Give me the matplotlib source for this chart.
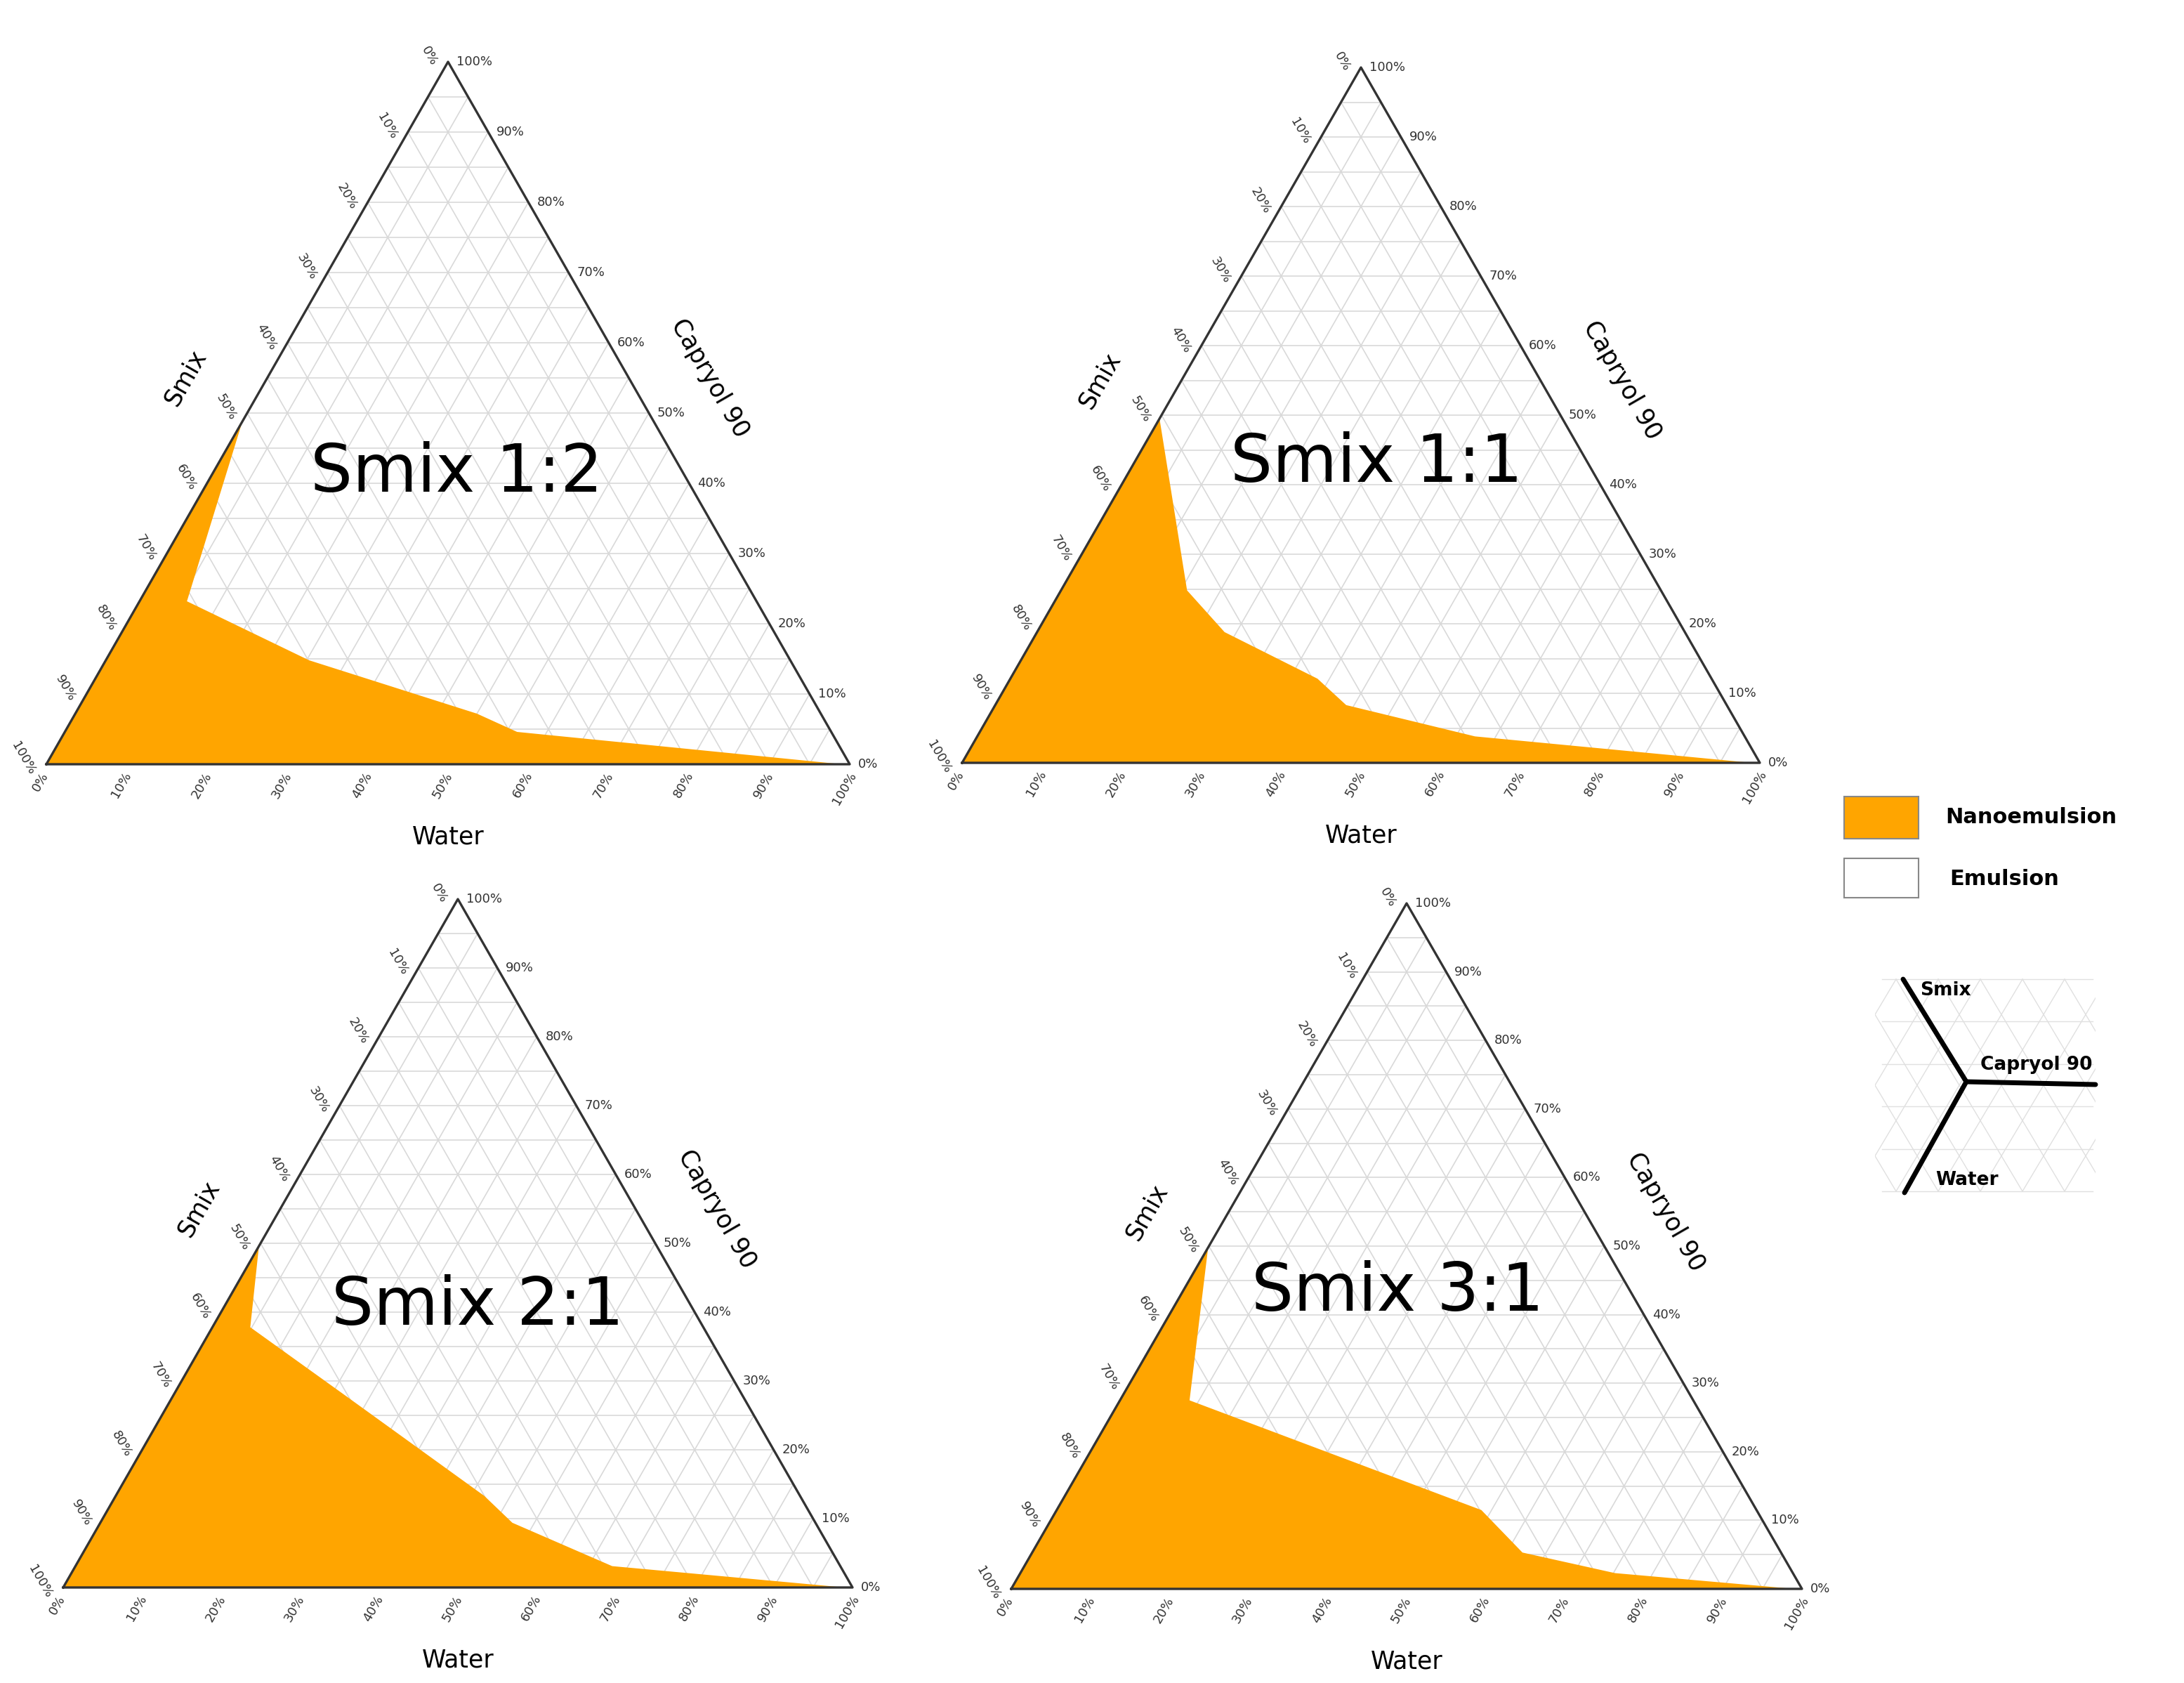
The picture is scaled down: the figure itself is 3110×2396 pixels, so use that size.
import matplotlib
matplotlib.use("Agg")
import matplotlib.pyplot as plt
import numpy as np

titles = ["Smix 1:2", "Smix 1:1", "Smix 2:1", "Smix 3:1"]
# boundary points (water %, capryol %) of the nanoemulsion region
water = [
    [0, 5.9, 25.3, 50.0, 56.3, 99],
    [0, 15.8, 23.5, 38.5, 44.0, 62.4, 99],
    [0, 4.8, 21.6, 46.7, 52.2, 68.0, 99],
    [0, 8.8, 53.7, 62.0, 75.2, 99],
]
capryol = [
    [48.8, 23.2, 14.8, 7.2, 4.6, 0],
    [49.5, 24.8, 18.8, 12.1, 8.3, 3.8, 0],
    [49.6, 37.8, 28.0, 13.3, 9.4, 3.1, 0],
    [49.8, 27.5, 11.5, 5.3, 2.3, 0],
]
tick_labels = [f"{v}%" for v in range(0, 101, 10)]

# panel layout: bottom-left x, bottom y, width, height (in half-pixel units)
panels = [(33, 544, 572, 500), (685, 543, 568, 495), (45, 1130, 562, 490), (720, 1131, 563, 488)]
title_pos = [(325, 337), (980, 330), (340, 930), (995, 920)]
orange = "#FFA500"

fig = plt.figure(figsize=(31.1, 23.96), dpi=100)
ax = fig.add_axes([0, 0, 1, 1])
ax.set_xlim(0, 1555)
ax.set_ylim(1198, 0)
ax.axis("off")

for (x0, y0, w, h), t, tp, ws, cs in zip(panels, titles, title_pos, water, capryol):
    def P(wat, cap):
        wat = np.asarray(wat) / 100.0
        cap = np.asarray(cap) / 100.0
        return x0 + (wat + cap * 0.5) * w, y0 - cap * h
    for k in range(1, 20):
        f = k * 5
        a = P([0, 100 - f], [f, f]); ax.plot(*a, color="#d9d9d9", lw=1.2, zorder=1)
        a = P([f, f], [0, 100 - f]); ax.plot(*a, color="#d9d9d9", lw=1.2, zorder=1)
        a = P([0, f], [f, 0]); ax.plot(*a, color="#d9d9d9", lw=1.2, zorder=1)
    pw = list(ws) + [0]
    pc = list(cs) + [0]
    xs, ys = P(pw, pc)
    ax.fill(xs, ys, color=orange, zorder=2, lw=0)
    xs, ys = P([0, 100, 0, 0], [0, 0, 100, 0])
    ax.plot(xs, ys, color="#333333", lw=2.4, zorder=3)
    for i, lab in enumerate(tick_labels):
        v = i * 10
        bx, by = P(v, 0)
        ax.text(bx - 4, by + 4, lab, rotation=60, ha="center", va="top", fontsize=13, color="#333333")
        rx, ry = P(100 - v, v)
        ax.text(rx + 6, ry, lab, ha="left", va="center", fontsize=13, color="#333333")
        lx, ly = P(0, 100 - v)
        ax.text(lx - 6, ly - 4, lab, rotation=-60, ha="right", va="center", fontsize=13, color="#333333")
    ax.text(x0 + w * 0.5, y0 + 52, "Water", ha="center", va="center", fontsize=25)
    sx, sy = P(0, 55)
    ax.text(sx - 58, sy, "Smix", rotation=60, ha="center", va="center", fontsize=25)
    cx, cy = P(45, 55)
    ax.text(cx + 58, cy, "Capryol 90", rotation=-60, ha="center", va="center", fontsize=25)
    ax.text(tp[0], tp[1], t, ha="center", va="center", fontsize=68, zorder=4)

# legend
ax.add_patch(plt.Rectangle((1313, 567), 53, 30, facecolor=orange, edgecolor="#888888", lw=1.5))
ax.add_patch(plt.Rectangle((1313, 611), 53, 28, facecolor="white", edgecolor="#888888", lw=1.5))
ax.text(1385, 582, "Nanoemulsion", ha="left", va="center", fontsize=22, fontweight="bold")
ax.text(1388, 626, "Emulsion", ha="left", va="center", fontsize=22, fontweight="bold")

# icon
gx0, gx1, gy0, gy1 = 1340, 1490, 697, 848
for yy in np.linspace(gy0, gy1, 6):
    ax.plot([gx0, gx1], [yy, yy], color="#e0e0e0", lw=1, zorder=1)
step = 30
for xx in np.arange(gx0 - 200, gx1 + 100, step):
    ax.plot([xx, xx + 90], [gy1, gy0], color="#e0e0e0", lw=1, zorder=1)
    ax.plot([xx, xx + 90], [gy0, gy1], color="#e0e0e0", lw=1, zorder=1)
ax.add_patch(plt.Rectangle((gx0 - 205, gy0 - 5), 200, 160, facecolor="white", edgecolor="none", zorder=1.5))
ax.add_patch(plt.Rectangle((gx1 + 2, gy0 - 5), 120, 160, facecolor="white", edgecolor="none", zorder=1.5))
c = (1400, 770)
for e in [(1355, 697), (1492, 772), (1356, 849)]:
    ax.plot([c[0], e[0]], [c[1], e[1]], color="black", lw=5, zorder=3, solid_capstyle="round")
ax.text(1367, 705, "Smix", fontsize=19, fontweight="bold", ha="left", va="center", zorder=4)
ax.text(1410, 758, "Capryol 90", fontsize=19, fontweight="bold", ha="left", va="center", zorder=4)
ax.text(1378, 840, "Water", fontsize=19, fontweight="bold", ha="left", va="center", zorder=4)

fig.savefig("out.png", dpi=100, facecolor="white")
